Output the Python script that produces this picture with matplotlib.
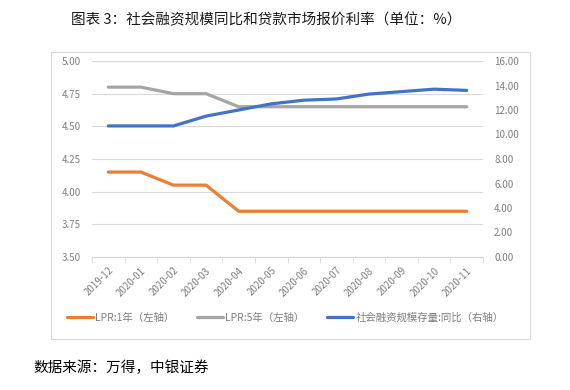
import numpy as np
import matplotlib.pyplot as plt
from matplotlib.patches import Rectangle

plt.rcParams['font.family'] = ['Noto Sans CJK SC', 'DejaVu Sans']

months = ["2019-12", "2020-01", "2020-02", "2020-03", "2020-04", "2020-05",
          "2020-06", "2020-07", "2020-08", "2020-09", "2020-10", "2020-11"]
lpr_1y = [4.15, 4.15, 4.05, 4.05, 3.85, 3.85, 3.85, 3.85, 3.85, 3.85, 3.85, 3.85]
lpr_5y = [4.80, 4.80, 4.75, 4.75, 4.65, 4.65, 4.65, 4.65, 4.65, 4.65, 4.65, 4.65]
tsf_yoy = [10.7, 10.7, 10.7, 11.5, 12.0, 12.5, 12.8, 12.9, 13.3, 13.5, 13.7, 13.6]

grid_c = "#d9d9d9"
text_c = "#7f7f7f"

fig = plt.figure(figsize=(5.7, 3.9), dpi=100)
ax = fig.add_axes([92 / 570, 1 - 257 / 390, (483 - 92) / 570, (257 - 61) / 390])
ax2 = ax.twinx()

x = np.arange(len(months))
l1, = ax.plot(x, lpr_1y, color="#ED7D31", lw=2.3, solid_capstyle="round", zorder=3)
l2, = ax.plot(x, lpr_5y, color="#A5A5A5", lw=2.3, solid_capstyle="round", zorder=3)
l3, = ax2.plot(x, tsf_yoy, color="#4472C4", lw=2.3, solid_capstyle="round", zorder=3)

ax.set_xlim(-0.5, len(months) - 0.5)
ax.set_ylim(3.5, 5.0)
ax.set_yticks(np.arange(3.5, 5.01, 0.25))
ax.set_yticklabels([f"{v:.2f}" for v in np.arange(3.5, 5.01, 0.25)])
ax2.set_ylim(0, 16)
ax2.set_yticks(np.arange(0, 16.1, 2))
ax2.set_yticklabels([f"{v:.2f}" for v in np.arange(0, 16.1, 2)])

ax.set_xticks(x)
ax.set_xticklabels(months, rotation=45, ha="right", rotation_mode="anchor")
ax.set_xticks(np.arange(-0.5, len(months), 1), minor=True)
ax.tick_params(axis="x", which="major", length=0, labelsize=7, colors=text_c, pad=6)
ax.tick_params(axis="x", which="minor", length=4, color=grid_c)
ax.tick_params(axis="y", length=0, labelsize=7, colors=text_c, pad=8)
ax2.tick_params(axis="y", length=0, labelsize=7, colors=text_c, pad=8)

ax.grid(axis="y", color=grid_c, lw=0.8)
ax.set_axisbelow(True)
for a in (ax, ax2):
    for s in ("top", "left", "right"):
        a.spines[s].set_visible(False)
    a.spines["bottom"].set_color(grid_c)

fig.patches.append(Rectangle((51 / 570, 1 - 339 / 390), (530 - 51) / 570, (339 - 52) / 390,
                             transform=fig.transFigure, fill=False, ec=grid_c, lw=0.8))

leg = fig.legend([l1, l2, l3], ["LPR:1年（左轴）", "LPR:5年（左轴）", "社会融资规模存量:同比（右轴）"],
                 loc="center", bbox_to_anchor=(285 / 570, 1 - 318 / 390), ncol=3, frameon=False,
                 fontsize=7.5, handlelength=2.5, handletextpad=0.2, columnspacing=2.2)
for t in leg.get_texts():
    t.set_color(text_c)

fig.text(266 / 570, 1 - 20 / 390, "图表 3：社会融资规模同比和贷款市场报价利率（单位：%）",
         ha="center", va="center", fontsize=10.5, color="#1a1a1a")
fig.text(33 / 570, 1 - 368 / 390, "数据来源：万得，中银证券",
         ha="left", va="center", fontsize=10.5, color="black")

fig.savefig("out.png", dpi=100)
